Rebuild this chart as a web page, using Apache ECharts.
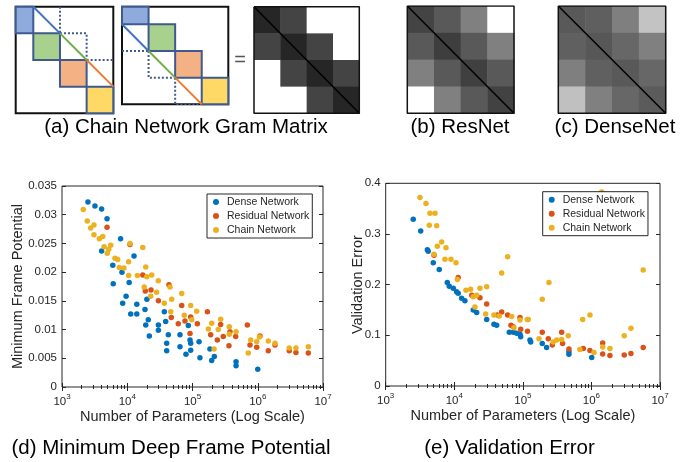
<!DOCTYPE html>
<html><head><meta charset="utf-8">
<script src="https://cdn.jsdelivr.net/npm/echarts@6/dist/echarts.min.js"></script>
<style>html,body{margin:0;padding:0;background:#fff}#c{width:693px;height:462px}</style>
</head><body><div id="c"></div>
<script>
// ---------- data ----------
const seriesNames = ['Dense Network', 'Residual Network', 'Chain Network'];

// (a) chain-network block diagrams: [x0, y0, x1, y1, blockIndex]
const a1Blocks = [[0,0,0.66,1,0],[0.66,1,1.66,2,1],[1.66,2,2.66,3,2],[2.66,3,3.66,4,3]];
const a1Diag = [[[0.66,0],[1.66,1]],[[1.66,1],[2.66,2]],[[2.66,2],[3.66,3]]];
const a1Dotted = [[[1.66,0],[1.66,1]],[[1.66,1],[2.66,1],[2.66,2]],[[2.66,2],[3.66,2]]];
const a2Blocks = [[0,0,1,0.66,0],[1,0.66,2,1.66,1],[2,1.66,3,2.66,2],[3,2.66,4,3.66,3]];
const a2Diag = [[[0,0.66],[1,1.66]],[[1,1.66],[2,2.66]],[[2,2.66],[3,3.66]]];
const a2Dotted = [[[0,1.66],[1,1.66]],[[1,1.66],[1,2.66],[2,2.66]],[[2,2.66],[2,3.66],[3,3.66]]];

// gram matrices, gray level per cell (row-major)
const gramGray = [[38,68,255,255],[68,38,68,255],[255,68,38,68],[255,255,68,38]];
const resnetGray = [[68,89,128,255],[89,62,89,128],[128,89,64,89],[255,128,89,66]];
const densenetGray = [[89,95,127,195],[96,87,103,128],[127,96,89,103],[192,128,103,91]];
const matrixOutline = [[0,0],[4,0],[4,4],[0,4],[0,0]];

// (d) minimum frame potential vs parameters
const potDense = [[2500,0.0322],[3200,0.0315],[4050,0.0310],[4900,0.0293],[4050,0.0237],[7900,0.0258],[12700,0.0228],[6000,0.0212],[8300,0.0200],[6100,0.0180],[10700,0.0182],[9600,0.0158],[8500,0.0146],[14000,0.0144],[20000,0.0153],[18700,0.0135],[11300,0.0127],[14000,0.0127],[37000,0.0131],[21000,0.0117],[19200,0.0108],[30000,0.0108],[21800,0.0089],[30000,0.0099],[38800,0.0114],[42600,0.0091],[40200,0.0076],[40200,0.0063],[64300,0.0091],[64300,0.0070],[86300,0.0107],[91600,0.0082],[93800,0.0076],[93800,0.0064],[79400,0.0057],[126000,0.0079],[130000,0.0051],[185000,0.0066],[216000,0.0053],[197000,0.0046],[465000,0.0044],[465000,0.0037],[1000000,0.0031]];
const potResidual = [[4900,0.0278],[11000,0.0248],[17300,0.0195],[18900,0.0167],[23100,0.0169],[30000,0.0150],[43600,0.0178],[68300,0.0142],[93800,0.0122],[47300,0.0121],[169000,0.0131],[60500,0.0110],[76700,0.0115],[91600,0.0093],[118600,0.0110],[190000,0.0091],[240000,0.0082],[270000,0.0109],[296000,0.0088],[362000,0.0072],[375000,0.0096],[459000,0.0088],[692000,0.0108],[761000,0.0073],[964000,0.0069],[1080000,0.0089],[1450000,0.0063],[1840000,0.0073],[3040000,0.0063],[3850000,0.0060],[5950000,0.0059]];
const potChain = [[2120,0.0309],[2440,0.0289],[2750,0.0277],[3090,0.0282],[3090,0.0265],[3730,0.0258],[4210,0.0262],[4410,0.0244],[5580,0.0247],[4940,0.0233],[5200,0.0240],[6490,0.0224],[7140,0.0222],[7550,0.0208],[8900,0.0207],[10500,0.0218],[11000,0.0250],[17300,0.0243],[10500,0.0194],[14300,0.0194],[19200,0.0209],[19900,0.0192],[23700,0.0195],[29900,0.0185],[18200,0.0174],[45200,0.0174],[22900,0.0158],[28200,0.0165],[37000,0.0146],[48000,0.0153],[68300,0.0163],[46400,0.0131],[74800,0.0125],[93800,0.0142],[116000,0.0132],[270000,0.0118],[97300,0.0117],[175000,0.0101],[197000,0.0111],[248000,0.0100],[214000,0.0066],[366000,0.0105],[465000,0.0096],[366000,0.0092],[716000,0.0059],[780000,0.0082],[964000,0.0079],[1060000,0.0087],[1450000,0.0080],[1840000,0.0076],[3040000,0.0068],[3850000,0.0068],[5950000,0.0070]];

// (e) validation error vs parameters
const errDense = [[2520,0.329],[3240,0.306],[4050,0.269],[4170,0.266],[4940,0.243],[6040,0.230],[7910,0.204],[8460,0.197],[9670,0.193],[10800,0.186],[11400,0.183],[12800,0.173],[14300,0.168],[18900,0.150],[21200,0.145],[29700,0.131],[37900,0.122],[41500,0.120],[63400,0.106],[72500,0.106],[81200,0.104],[90800,0.102],[93000,0.097],[127000,0.091],[130000,0.087],[192000,0.084],[222000,0.076],[470000,0.068],[470000,0.0625],[1010000,0.056]];
const errResidual = [[5060,0.258],[11400,0.214],[18000,0.179],[23700,0.174],[29700,0.162],[49100,0.146],[60000,0.140],[90800,0.135],[42400,0.140],[67100,0.120],[72500,0.117],[93000,0.112],[117000,0.108],[192000,0.106],[235000,0.093],[269000,0.081],[368000,0.106],[380000,0.084],[470000,0.073],[761000,0.074],[951000,0.070],[1460000,0.085],[1460000,0.063],[1860000,0.060],[3010000,0.061],[3770000,0.064],[5690000,0.076]];
const errChain = [[3160,0.372],[3870,0.360],[4420,0.341],[5230,0.341],[4320,0.317],[5540,0.316],[6540,0.284],[5650,0.276],[7570,0.273],[5060,0.260],[7310,0.250],[8950,0.250],[10600,0.243],[11100,0.210],[14800,0.189],[17300,0.191],[23700,0.193],[29700,0.196],[18900,0.176],[21200,0.179],[20000,0.156],[28700,0.142],[37900,0.140],[45300,0.138],[49100,0.223],[60000,0.255],[68700,0.137],[1410000,0.383],[5690000,0.229],[240000,0.204],[192000,0.171],[951000,0.140],[745000,0.131],[120000,0.131],[74100,0.115],[90800,0.130],[116000,0.131],[172000,0.093],[277000,0.087],[311000,0.091],[368000,0.092],[459000,0.099],[679000,0.072],[1090000,0.066],[1460000,0.077],[1860000,0.074],[3010000,0.099],[3770000,0.114]];

// ---------- styles ----------
const FONT = "'Liberation Sans', Arial, Helvetica, sans-serif";
const AX = '#262626';
const colors = ['#0072BD', '#D95319', '#EDB120'];
const blockFill = ['#8faadc', '#a9d18e', '#f4b183', '#ffd966'];
const diagColors = ['#4472c4', '#70ad47', '#ed7d31'];
const blockStroke = '#3e5a8f';

const chart = echarts.init(document.getElementById('c'), null, {renderer: 'canvas'});

function blockItem(params, api) {
  const a = api.coord([api.value(0), api.value(1)]);
  const b = api.coord([api.value(2), api.value(3)]);
  return {type: 'rect', shape: {x: Math.min(a[0], b[0]), y: Math.min(a[1], b[1]), width: Math.abs(b[0] - a[0]), height: Math.abs(b[1] - a[1])},
    style: {fill: blockFill[api.value(4)], stroke: blockStroke, lineWidth: 2}};
}
function cellItem(params, api) {
  const c = api.value(0), r = api.value(1), g = api.value(2);
  const a = api.coord([c, r]);
  const b = api.coord([c + 1, r + 1]);
  return {type: 'rect', shape: {x: Math.min(a[0], b[0]), y: Math.min(a[1], b[1]), width: Math.abs(b[0] - a[0]) + 0.5, height: Math.abs(b[1] - a[1]) + 0.5},
    style: {fill: 'rgb(' + g + ',' + g + ',' + g + ')'}};
}
function toCells(m) {
  const out = [];
  m.forEach((row, r) => row.forEach((g, c) => out.push([c, r, g])));
  return out;
}

// grids
const grids = [
  {left: 15.7, top: 6.7, width: 97.6, height: 106.6, bw: 2},
  {left: 122, top: 6.7, width: 106.3, height: 97.6, bw: 2},
  {left: 254, top: 6.7, width: 105.3, height: 106.6, bw: 0},
  {left: 407.3, top: 6, width: 106.7, height: 107.3, bw: 0},
  {left: 558.3, top: 6, width: 107.4, height: 107.3, bw: 0},
  {left: 62, top: 186, width: 261, height: 201, bw: 1, c: AX},
  {left: 385.7, top: 183.3, width: 274.3, height: 202.7, bw: 1, c: AX}
].map(g => ({left: g.left, top: g.top, width: g.width, height: g.height, show: g.bw > 0, borderColor: g.c || '#111', borderWidth: g.bw, backgroundColor: 'transparent'}));

const matX = [3.66, 4, 4, 4, 4];
const matY = [4, 3.66, 4, 4, 4];
const xAxes = [], yAxes = [];
for (let i = 0; i < 5; i++) {
  xAxes.push({type: 'value', gridIndex: i, min: 0, max: matX[i], show: false});
  yAxes.push({type: 'value', gridIndex: i, min: 0, max: matY[i], inverse: true, show: false});
}
const tickStyle = {inside: true, length: 4, lineStyle: {color: AX, width: 1}};
const minorStyle = {show: true, splitNumber: 9, length: 2, lineStyle: {color: AX, width: 1}};
function logX(grid, pos, showLabel) {
  return {type: 'log', logBase: 10, gridIndex: grid, position: pos, min: 1000, max: 10000000,
    axisLine: {show: false}, axisTick: tickStyle, minorTick: minorStyle, splitLine: {show: false}, minorSplitLine: {show: false},
    axisLabel: {show: showLabel, margin: 6, color: AX,
      formatter: v => '{b|10}{s|' + Math.round(Math.log10(v)) + '}',
      rich: {b: {fontSize: 11.5, fontFamily: FONT, color: AX, lineHeight: 15, verticalAlign: 'bottom'},
             s: {fontSize: 8, fontFamily: FONT, color: AX, lineHeight: 7, verticalAlign: 'top'}}},
    name: showLabel ? 'Number of Parameters (Log Scale)' : '', nameLocation: 'middle', nameGap: 22,
    nameTextStyle: {fontSize: 14.5, fontFamily: FONT, color: AX}};
}
function linY(grid, pos, max, interval, showLabel, name, gap) {
  return {type: 'value', gridIndex: grid, position: pos, min: 0, max: max, interval: interval,
    axisLine: {show: false}, axisTick: tickStyle, splitLine: {show: false},
    axisLabel: {show: showLabel, margin: 5, fontSize: 11.5, fontFamily: FONT, color: AX},
    name: showLabel ? name : '', nameLocation: 'middle', nameGap: gap, nameMoveOverlap: false,
    nameTextStyle: {fontSize: 14.5, fontFamily: FONT, color: AX}};
}
xAxes.push(logX(5, 'bottom', true), logX(6, 'bottom', true), logX(5, 'top', false), logX(6, 'top', false));
yAxes.push(linY(5, 'left', 0.035, 0.005, true, 'Minimum Frame Potential', 37),
           linY(6, 'left', 0.4, 0.1, true, 'Validation Error', 20),
           linY(5, 'right', 0.035, 0.005, false, '', 0),
           linY(6, 'right', 0.4, 0.1, false, '', 0));

const series = [];
function lineSeries(idx, pts, color, dotted, width, z) {
  series.push({type: 'line', xAxisIndex: idx, yAxisIndex: idx, data: pts, symbol: 'none', silent: true,
    lineStyle: {color: color, width: width, type: dotted ? [2, 2] : 'solid'}, z: z || 3});
}
// (a) diagrams
[[0, a1Blocks, a1Diag, a1Dotted], [1, a2Blocks, a2Diag, a2Dotted]].forEach(([i, blocks, diag, dotted]) => {
  dotted.forEach(seg => lineSeries(i, seg, blockStroke, true, 2, 3));
  series.push({type: 'custom', xAxisIndex: i, yAxisIndex: i, data: blocks, renderItem: blockItem, encode: {x: [0, 2], y: [1, 3]}, silent: true, z: 4});
  diag.forEach((seg, k) => lineSeries(i, seg, diagColors[k], false, 2, 5));
});
// gram matrices
[[2, gramGray], [3, resnetGray], [4, densenetGray]].forEach(([i, m]) => {
  series.push({type: 'custom', xAxisIndex: i, yAxisIndex: i, data: toCells(m), renderItem: cellItem, encode: {x: 0, y: 1}, silent: true, z: 1});
  lineSeries(i, [[0, 0], [4, 4]], '#000', false, 1.5, 3);
  lineSeries(i, matrixOutline, '#111', false, 1.5, 4);
});
// scatter plots
[[5, [potDense, potResidual, potChain]], [6, [errDense, errResidual, errChain]]].forEach(([i, sets]) => {
  sets.forEach((d, k) => {
    series.push({type: 'scatter', name: seriesNames[k], xAxisIndex: i, yAxisIndex: i, data: d, symbol: 'circle', symbolSize: 5.5,
      itemStyle: {color: colors[k], opacity: 1}, z: 2 + k * 0.1});
  });
});

function legendAt(left, top) {
  return {data: seriesNames, orient: 'vertical', left: left, top: top, icon: 'circle', itemWidth: 12, itemHeight: 6, itemGap: 0,
    padding: [1, 3, 1, 6], borderColor: AX, borderWidth: 1, backgroundColor: '#fff', selectedMode: false,
    textStyle: {fontSize: 10.5, fontFamily: FONT, color: AX, lineHeight: 14}, z: 10};
}

function cap(text, x, y, size, fill) {
  return {type: 'text', x: x, y: y, z: 20, style: {text: text, fontSize: size, fontFamily: FONT, fill: fill || '#000', align: 'center', verticalAlign: 'middle'}};
}

chart.setOption({
  animation: false,
  textStyle: {fontFamily: FONT},
  grid: grids,
  xAxis: xAxes,
  yAxis: yAxes,
  legend: [legendAt(207, 194), legendAt(542.7, 191.7)],
  series: series,
  graphic: [
    cap('=', 240, 60, 20, '#555'),
    cap('(a) Chain Network Gram Matrix', 186, 127.5, 20.5),
    cap('(b) ResNet', 460, 127.5, 20.5),
    cap('(c) DenseNet', 615, 127.5, 20.5),
    cap('(d) Minimum Deep Frame Potential', 171, 448, 20.5),
    cap('(e) Validation Error', 509.5, 448, 20.5)
  ]
});
</script></body></html>
